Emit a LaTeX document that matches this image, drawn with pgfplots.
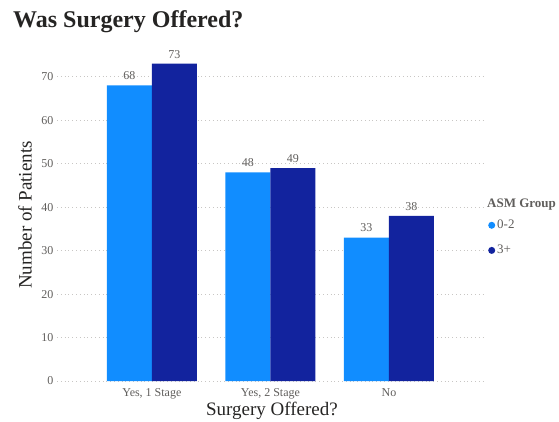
\documentclass[border=0pt]{standalone}
\usepackage{pgfplots}
\pgfplotsset{compat=1.18}
\usepackage{fontspec}
\setmainfont{Liberation Serif}
\definecolor{lb}{HTML}{118DFF}
\definecolor{db}{HTML}{12239E}
\definecolor{tickgray}{HTML}{605E5C}
\definecolor{labdark}{HTML}{252423}
\definecolor{gridc}{HTML}{C8C6C4}
\begin{document}
\begin{tikzpicture}
\useasboundingbox (0pt,0pt) rectangle (559pt,421pt);
\node[anchor=base west, font=\fontsize{24}{29}\selectfont\bfseries, text=labdark, inner sep=0pt] at (13pt,393pt) {Was Surgery Offered?};
\node[rotate=90, font=\fontsize{19}{22}\selectfont, text=labdark] at (25pt,206pt) {Number of Patients};
\node[font=\fontsize{19}{22}\selectfont, text=labdark] at (272pt,10pt) {Surgery Offered?};
\node[anchor=west, font=\fontsize{13}{15}\selectfont\bfseries, text=tickgray, inner sep=0pt] at (487pt,216pt) {ASM Group};
\begin{axis}[
  at={(57pt,40pt)}, anchor=south west, scale only axis,
  width=428pt, height=326pt,
  ymin=0, ymax=75, xmin=-0.8, xmax=2.81,
  ybar=0pt, bar width=45pt,
  axis line style={draw=none}, major tick length=0pt, tick style={draw=none},
  ymajorgrids, grid style={gridc, line width=0.8pt, dash pattern=on 0.8pt off 3pt},
  ytick={0,10,...,70},
  xtick={0,1,2},
  xticklabels={{Yes, 1 Stage},{Yes, 2 Stage},No},
  /pgf/number format/assume math mode=true,
  yticklabel style={font=\fontsize{12}{14}\selectfont, text=tickgray},
  xticklabel style={font=\fontsize{12}{14}\selectfont, text=tickgray, yshift=-4pt},
  nodes near coords,
  nodes near coords style={font=\fontsize{12}{14}\selectfont, text=tickgray, yshift=2pt},
  legend image code/.code={\fill[#1] (3pt,0pt) circle (3.5pt);},
  legend style={at={(1.0,0.5)}, xshift=3pt, anchor=north west, draw=none, fill=none,
    font=\fontsize{13}{15}\selectfont, text=tickgray, row sep=11pt, inner sep=0pt,
    cells={anchor=west}},
  legend cell align=left,
]
\addplot[fill=lb, draw=none] coordinates {(0,68) (1,48) (2,33)};
\addplot[fill=db, draw=none] coordinates {(0,73) (1,49) (2,38)};
\legend{0-2,3+}
\end{axis}
\end{tikzpicture}
\end{document}
